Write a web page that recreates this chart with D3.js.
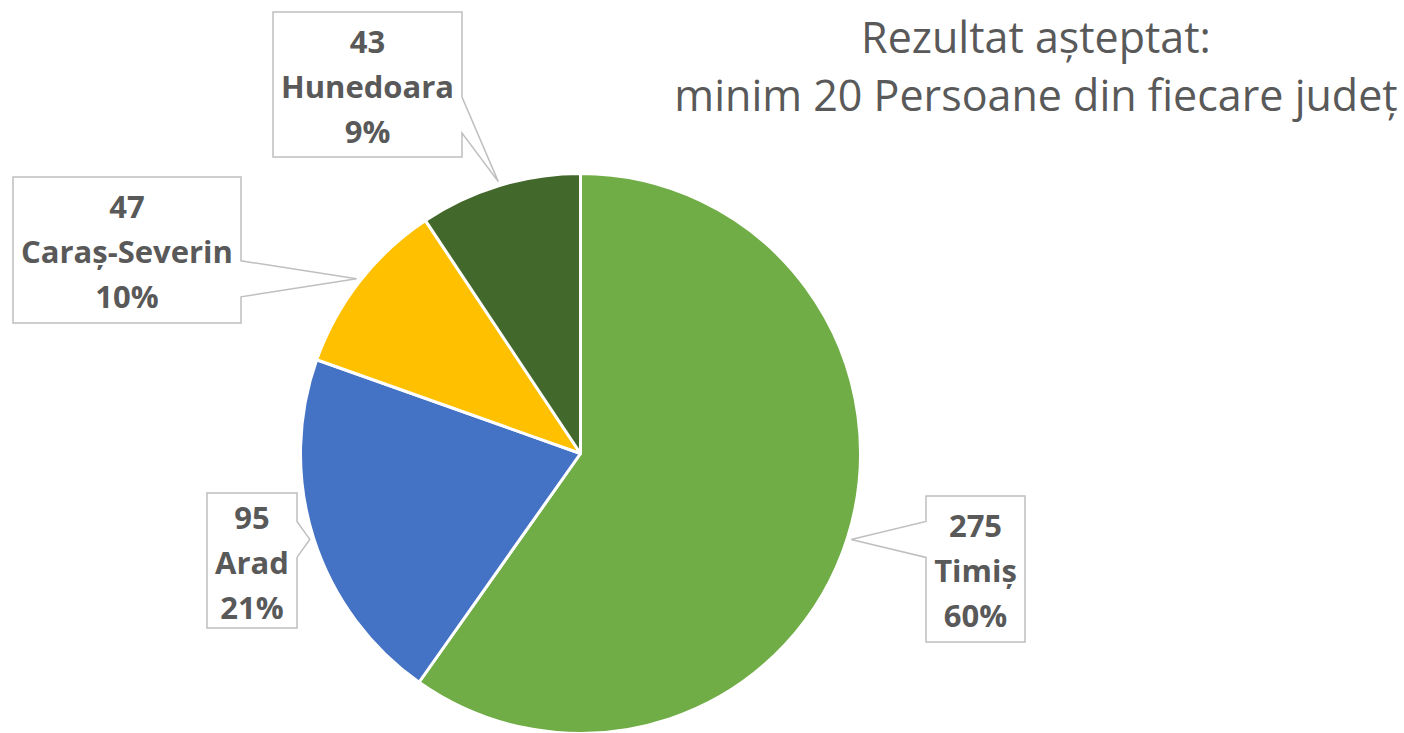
<!DOCTYPE html>
<html lang="ro">
<head>
  <meta charset="UTF-8">
  <title>Rezultat așteptat</title>
  <script src="https://d3js.org/d3.v7.min.js"></script>
  <style>
    html, body { margin: 0; padding: 0; background: #fff; }
    svg { display: block; font-family: "Open Sans", sans-serif; }
  </style>
</head>
<body>
<div id="chart"></div>
<script>
  // data
  const counties = ["Timiș", "Arad", "Caraș-Severin", "Hunedoara"];
  const values = [275, 95, 47, 43];
  const percentLabels = ["60%", "21%", "10%", "9%"];
  const colors = ["#70AD47", "#4472C4", "#FFC000", "#43682B"];
  const titleLines = ["Rezultat așteptat:", "minim 20 Persoane din fiecare județ"];

  const width = 1404, height = 733;
  const cx = 580.5, cy = 453.5, radius = 280;
  const textColor = "#595959";

  // label box layout (center x/y, width, height), same order as counties
  const boxes = [
    { x: 975.5, y: 569, w: 99, h: 146 },
    { x: 252, y: 560.5, w: 90, h: 135 },
    { x: 127, y: 250, w: 228, h: 146 },
    { x: 367.5, y: 84.5, w: 189, h: 145 }
  ];

  const svg = d3.select("#chart").append("svg")
    .attr("width", width)
    .attr("height", height);

  const pie = d3.pie().sort(null).value(d => d);
  const arcs = pie(values);
  const arc = d3.arc().innerRadius(0).outerRadius(radius);
  const tipArc = d3.arc().innerRadius(radius + 4).outerRadius(radius + 4);

  const g = svg.append("g").attr("transform", `translate(${cx},${cy})`);

  g.selectAll("path.slice")
    .data(arcs)
    .join("path")
    .attr("class", "slice")
    .attr("d", arc)
    .attr("fill", (d, i) => colors[i])
    .attr("stroke", "#fff")
    .attr("stroke-width", 3)
    .attr("stroke-linejoin", "round");

  // callout boxes
  const half = 18;
  function calloutPath(b, tip) {
    const l = b.x - b.w / 2, r = b.x + b.w / 2, t = b.y - b.h / 2, bt = b.y + b.h / 2;
    const my = Math.max(t + 24 + half, Math.min(bt - 24 - half, tip[1]));
    const y1 = my - half, y2 = my + half;
    if (tip[0] > r) {
      return `M${l},${t}H${r}V${y1}L${tip[0]},${tip[1]}L${r},${y2}V${bt}H${l}Z`;
    }
    return `M${l},${t}H${r}V${bt}H${l}V${y2}L${tip[0]},${tip[1]}L${l},${y1}Z`;
  }

  const labels = svg.append("g").selectAll("g.label")
    .data(arcs)
    .join("g")
    .attr("class", "label");

  labels.append("path")
    .attr("d", (d, i) => {
      const c = tipArc.centroid(d);
      return calloutPath(boxes[i], [cx + c[0], cy + c[1]]);
    })
    .attr("fill", "#fff")
    .attr("stroke", "#BFBFBF")
    .attr("stroke-width", 1.5)
    .attr("stroke-linejoin", "miter");

  labels.each(function(d, i) {
    const lines = [String(values[i]), counties[i], percentLabels[i]];
    const b = boxes[i];
    d3.select(this).selectAll("text")
      .data(lines)
      .join("text")
      .attr("x", b.x)
      .attr("y", (t, j) => b.y + 13 + (j - 1) * 45)
      .attr("text-anchor", "middle")
      .attr("fill", textColor)
      .style("font-size", "31px")
      .style("font-weight", "bold")
      .text(t => t);
  });

  // title
  svg.append("g").selectAll("text")
    .data(titleLines)
    .join("text")
    .attr("x", 1036)
    .attr("y", (d, i) => 53 + i * 58)
    .attr("text-anchor", "middle")
    .attr("fill", textColor)
    .style("font-size", "43px")
    .text(d => d);
</script>
</body>
</html>
